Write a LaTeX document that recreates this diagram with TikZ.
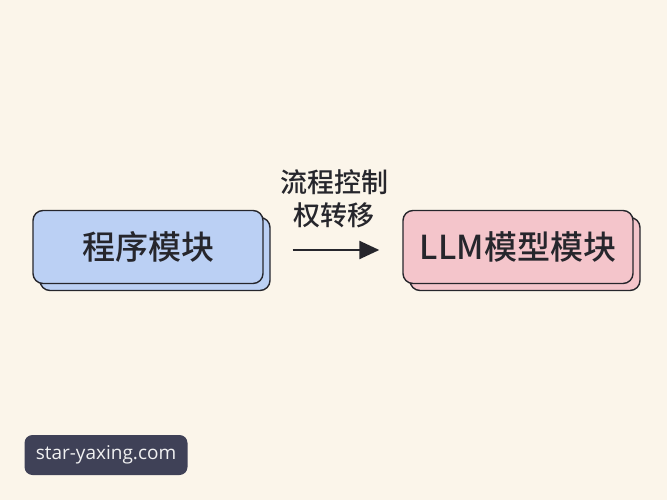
\documentclass[tikz,border=0pt]{standalone}
\usepackage{fontspec}
\newfontfamily\cjk{Noto Sans CJK SC}[UprightFont={* Medium}]
\setsansfont{Open Sans}
\usepackage{tikz}
\usetikzlibrary{arrows.meta}
\definecolor{fond}{HTML}{FBF5EA}
\definecolor{trait}{HTML}{26262C}
\definecolor{bleu}{HTML}{BBD0F4}
\definecolor{rose}{HTML}{F4C5CB}
\definecolor{marque}{HTML}{3F4157}

\begin{document}
\begin{tikzpicture}[x=1pt, y=-1pt]
\tikzset{boite/.style={draw=trait, line width=1.4pt, rounded corners=10pt, minimum width=230pt, minimum height=73pt, text=trait, font=\cjk\fontsize{33}{38}\selectfont}}
\tikzset{fleche/.style={draw=trait, line width=2.4pt, -{Triangle[length=20pt, width=18pt]}}}
\fill[fond] (0,0) rectangle (667,500);
\useasboundingbox (0,0) rectangle (667,500);
% les deux modules
\node[boite, fill=bleu] (P2) at (155,254) {};
\node[boite, fill=bleu] (P1) at (148,247) {程序模块};
\node[boite, fill=rose] (Q2) at (525,254) {};
\node[boite, fill=rose] (Q1) at (518,247) {LLM模型模块};
% transfert
\draw[fleche] ([xshift=29pt, yshift=-3pt]P1.east) -- ([xshift=-23pt, yshift=-3pt]Q1.west);
\node[align=center, text=trait, font=\cjk\fontsize{27}{33}\selectfont] (L) at (334,199) {流程控制\\权转移};
% filigrane
\node[fill=marque, rounded corners=8pt, minimum width=163pt, minimum height=40pt, text=white!92!marque, font=\sffamily\fontsize{19}{22}\selectfont] (W) at (106,455) {star-yaxing.com};
\end{tikzpicture}
\end{document}
